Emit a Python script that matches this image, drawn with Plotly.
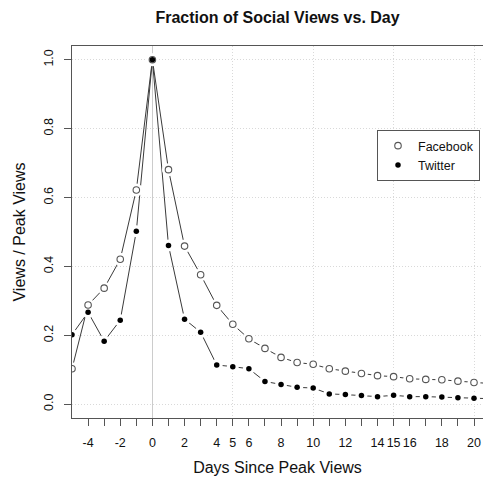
import plotly.graph_objects as go

days = list(range(-5, 22))
facebook = [0.103, 0.288, 0.337, 0.421, 0.622, 1.0, 0.681, 0.459, 0.376, 0.287,
            0.232, 0.190, 0.162, 0.136, 0.121, 0.116, 0.103, 0.096, 0.089, 0.083,
            0.080, 0.074, 0.072, 0.071, 0.067, 0.063, 0.060]
twitter = [0.202, 0.267, 0.183, 0.244, 0.502, 1.0, 0.461, 0.247, 0.209, 0.114,
           0.109, 0.103, 0.066, 0.057, 0.049, 0.047, 0.030, 0.028, 0.025, 0.022,
           0.026, 0.022, 0.022, 0.021, 0.019, 0.017, 0.016]

x_tick_vals = list(range(-4, 21))
x_labeled = [-4, -2, 0, 2, 4, 5, 6, 8, 10, 12, 14, 15, 16, 18, 20]
x_grid_vals = [5, 10, 15, 20]
y_tick_vals = [0.0, 0.2, 0.4, 0.6, 0.8, 1.0]

FONT = "Liberation Sans, Arial, sans-serif"
LINE = "#3a3a3a"
GRID = "#d9d9d9"
DOT = "1px,2px"

fig = go.Figure()

# connecting lines
for ys in (facebook, twitter):
    fig.add_trace(go.Scatter(x=days, y=ys, mode="lines",
                             line=dict(color=LINE, width=1),
                             showlegend=False, hoverinfo="skip"))
# white halos to create gaps around points (R type="b" look)
for ys, sz in ((facebook, 13), (twitter, 12)):
    fig.add_trace(go.Scatter(x=days, y=ys, mode="markers",
                             marker=dict(color="white", size=sz, line=dict(width=0)),
                             showlegend=False, hoverinfo="skip"))
# point markers
fig.add_trace(go.Scatter(x=days, y=facebook, mode="markers", name="Facebook",
                         marker=dict(symbol="circle-open", color="#555555", size=6.5,
                                     line=dict(width=1.1, color="#555555"))))
fig.add_trace(go.Scatter(x=days, y=twitter, mode="markers", name="Twitter",
                         marker=dict(symbol="circle", color="black", size=5.5)))

fig.update_layout(
    width=483, height=484,
    margin=dict(l=72, r=0, t=46, b=66, autoexpand=False),
    paper_bgcolor="white", plot_bgcolor="white",
    font=dict(family=FONT, color="#111111", size=13),
    title=dict(text="<b>Fraction of Social Views vs. Day</b>",
               x=(72 + 483) / 2 / 483, xanchor="center", y=1 - 17 / 484, yanchor="middle",
               font=dict(size=16, family=FONT, color="#111111")),
    legend=dict(x=(480 - 72) / 411, y=(418 - 130) / 372, xanchor="right", yanchor="top",
                bordercolor="#555555", borderwidth=1, bgcolor="white",
                font=dict(size=12.5, family=FONT, color="#111111"), itemwidth=30,
                tracegroupgap=0),
    showlegend=True,
)

fig.update_xaxes(
    range=[-5, 20.56],
    tickmode="array", tickvals=x_tick_vals,
    ticktext=[str(v) if v in x_labeled else "" for v in x_tick_vals],
    tickangle=0,
    ticks="outside", ticklen=7, tickwidth=1, tickcolor="#555555",
    ticklabelstandoff=6,
    tickfont=dict(size=12.5, color="#111111"),
    showgrid=False,
    minor=dict(tickmode="array", tickvals=x_grid_vals, showgrid=True,
               gridcolor=GRID, griddash=DOT, gridwidth=1, ticks=""),
    zeroline=True, zerolinecolor="#cccccc", zerolinewidth=1,
    showline=True, linecolor="#555555", linewidth=1, mirror=True,
    title=dict(text="Days Since Peak Views", font=dict(size=16, color="#111111"), standoff=12),
)
fig.update_yaxes(
    range=[-0.04, 1.04],
    tickmode="array", tickvals=y_tick_vals, tickformat=".1f",
    tickangle=-90,
    ticks="outside", ticklen=7, tickwidth=1, tickcolor="#555555",
    ticklabelstandoff=6,
    tickfont=dict(size=12.5, color="#111111"),
    showgrid=True, gridcolor=GRID, griddash=DOT, gridwidth=1,
    zeroline=False,
    showline=True, linecolor="#555555", linewidth=1, mirror=False,
    title=dict(text="Views / Peak Views", font=dict(size=16, color="#111111"), standoff=12),
)

fig.write_html("out.html", config={"displayModeBar": False},
               post_script="document.body.style.margin='0';document.body.style.padding='0';")
